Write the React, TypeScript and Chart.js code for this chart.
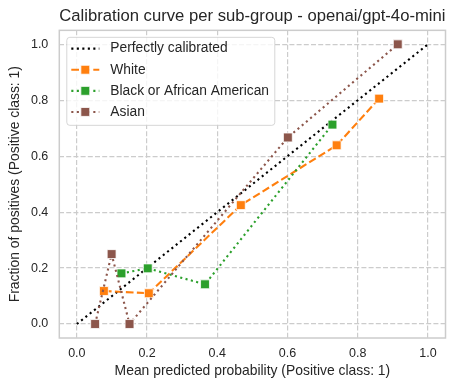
import React, { useEffect, useRef } from "react";
import { Chart, registerables } from "chart.js";

Chart.register(...registerables);

const TITLE = "Calibration curve per sub-group - openai/gpt-4o-mini";
const X_LABEL = "Mean predicted probability (Positive class: 1)";
const Y_LABEL = "Fraction of positives (Positive class: 1)";
const TICKS = [0, 0.2, 0.4, 0.6, 0.8, 1.0];

const SERIES_NAMES = ["Perfectly calibrated", "White", "Black or African American", "Asian"];
const COLORS = ["#000000", "#ff7f0e", "#2ca02c", "#8c564b"];

const PERFECT_X = [0, 1];
const PERFECT_Y = [0, 1];
const WHITE_X = [0.077, 0.205, 0.467, 0.74, 0.861];
const WHITE_Y = [0.118, 0.11, 0.425, 0.639, 0.806];
const BLACK_X = [0.127, 0.202, 0.365, 0.728];
const BLACK_Y = [0.181, 0.199, 0.142, 0.713];
const ASIAN_X = [0.052, 0.099, 0.15, 0.601, 0.914];
const ASIAN_Y = [0.0, 0.25, 0.0, 0.667, 1.0];

const FONT = "'Liberation Sans', Arial, sans-serif";
const TEXT_COLOR = "#262626";
const GRID_COLOR = "#cccccc";
const DOT = [2.1, 3.4];
const DASH = [7.7, 3.3];
const LINE_W = 2.1;
const MARKER_R = 6.3;

const toPts = (xs: number[], ys: number[]) => xs.map((x, i) => ({ x, y: ys[i] }));

const framePlugin = {
  id: "frame",
  beforeDatasetsDraw(chart: any) {
    const { ctx, chartArea: a } = chart;
    ctx.save();
    ctx.strokeStyle = GRID_COLOR;
    ctx.lineWidth = 1.5;
    ctx.strokeRect(a.left, a.top, a.right - a.left, a.bottom - a.top);
    ctx.restore();
  },
};

const legendPlugin = {
  id: "innerLegend",
  afterDraw(chart: any) {
    const { ctx, chartArea: a } = chart;
    const bx = a.left + 7.5;
    const by = a.top + 7;
    const bw = 208;
    const bh = 88;
    ctx.save();
    ctx.beginPath();
    const r = 3;
    ctx.moveTo(bx + r, by);
    ctx.arcTo(bx + bw, by, bx + bw, by + bh, r);
    ctx.arcTo(bx + bw, by + bh, bx, by + bh, r);
    ctx.arcTo(bx, by + bh, bx, by, r);
    ctx.arcTo(bx, by, bx + bw, by, r);
    ctx.closePath();
    ctx.fillStyle = "rgba(255,255,255,0.8)";
    ctx.fill();
    ctx.strokeStyle = "rgba(204,204,204,0.8)";
    ctx.lineWidth = 1;
    ctx.stroke();

    const datasets = chart.data.datasets;
    const order = [0, 1, 2, 3];
    order.forEach((di, row) => {
      const ds = datasets[di];
      const cy = by + 11.3 + row * 21.1;
      const x0 = bx + 4.5;
      const x1 = x0 + 28;
      ctx.beginPath();
      ctx.setLineDash(ds.borderDash || []);
      ctx.lineDashOffset = 0;
      ctx.lineCap = "butt";
      ctx.strokeStyle = ds.borderColor;
      ctx.lineWidth = LINE_W;
      ctx.moveTo(x0, cy);
      ctx.lineTo(x1, cy);
      ctx.stroke();
      ctx.setLineDash([]);
      if (ds.pointRadius > 0) {
        const s = MARKER_R * Math.SQRT1_2;
        const mx = (x0 + x1) / 2;
        ctx.fillStyle = ds.pointBackgroundColor;
        ctx.strokeStyle = "rgba(255,255,255,0.8)";
        ctx.lineWidth = 1;
        ctx.beginPath();
        ctx.rect(mx - s, cy - s, 2 * s, 2 * s);
        ctx.fill();
        ctx.stroke();
      }
      ctx.fillStyle = TEXT_COLOR;
      ctx.font = `13.8px ${FONT}`;
      ctx.textAlign = "left";
      ctx.textBaseline = "middle";
      ctx.fillText(SERIES_NAMES[di], x1 + 11, cy);
    });
    ctx.restore();
  },
};

export default function App() {
  const ref = useRef<HTMLCanvasElement | null>(null);

  useEffect(() => {
    if (!ref.current) return;
    const mk = (i: number, data: any[], dash: number[], markers: boolean, order: number) => ({
      label: SERIES_NAMES[i],
      data,
      borderColor: COLORS[i],
      backgroundColor: COLORS[i],
      borderWidth: LINE_W,
      borderDash: dash,
      borderCapStyle: "butt",
      pointStyle: "rect",
      pointRadius: markers ? MARKER_R : 0,
      pointHoverRadius: markers ? MARKER_R : 0,
      pointBackgroundColor: COLORS[i],
      pointBorderColor: "rgba(255,255,255,0.8)",
      pointBorderWidth: 1,
      tension: 0,
      fill: false,
      order,
    });

    const chart = new Chart(ref.current, {
      type: "line",
      data: {
        datasets: [
          mk(0, toPts(PERFECT_X, PERFECT_Y), DOT, false, 4),
          mk(1, toPts(WHITE_X, WHITE_Y), DASH, true, 3),
          mk(2, toPts(BLACK_X, BLACK_Y), DOT, true, 2),
          mk(3, toPts(ASIAN_X, ASIAN_Y), DOT, true, 1),
        ] as any,
      },
      options: {
        animation: false,
        responsive: false,
        devicePixelRatio: 1,
        layout: { padding: { left: 0, right: 10.5, top: 0, bottom: 0 } },
        plugins: {
          legend: { display: false },
          tooltip: { enabled: false },
          title: {
            display: true,
            text: TITLE,
            fullSize: false,
            color: TEXT_COLOR,
            font: { family: FONT, size: 16.7, weight: "normal", lineHeight: 1.2 },
            padding: { top: 6, bottom: 4.3 },
          },
        },
        scales: {
          x: {
            type: "linear",
            min: -0.05,
            max: 1.05,
            afterFit: (s: any) => {
              s.height = 53;
            },
            afterBuildTicks: (s: any) => {
              s.ticks = TICKS.map((v) => ({ value: v }));
            },
            ticks: {
              color: TEXT_COLOR,
              font: { family: FONT, size: 12.5 },
              padding: 8,
              maxRotation: 0,
              callback: (v: any) => Number(v).toFixed(1),
            },
            grid: { color: GRID_COLOR, lineWidth: 1.2, drawTicks: false },
            border: { display: false, dash: [5, 2.2] },
            title: {
              display: true,
              text: X_LABEL,
              color: TEXT_COLOR,
              font: { family: FONT, size: 13.9, lineHeight: 1.2 },
              padding: { top: 0, bottom: 11 },
            },
          },
          y: {
            type: "linear",
            min: -0.05,
            max: 1.05,
            afterFit: (s: any) => {
              s.width = 59.3;
            },
            afterBuildTicks: (s: any) => {
              s.ticks = TICKS.map((v) => ({ value: v }));
            },
            ticks: {
              color: TEXT_COLOR,
              font: { family: FONT, size: 12.5 },
              padding: 11,
              callback: (v: any) => Number(v).toFixed(1),
            },
            grid: { color: GRID_COLOR, lineWidth: 1.2, drawTicks: false },
            border: { display: false, dash: [5, 2.2] },
            title: {
              display: true,
              text: Y_LABEL,
              color: TEXT_COLOR,
              font: { family: FONT, size: 13.9, lineHeight: 1.2 },
              padding: { top: 7, bottom: 0 },
            },
          },
        },
      } as any,
      plugins: [framePlugin, legendPlugin],
    });
    return () => chart.destroy();
  }, []);

  return (
    <div style={{ position: "fixed", left: 0, top: 0, width: 456, height: 391, background: "#fff" }}>
      <canvas ref={ref} width={456} height={391} style={{ display: "block", width: 456, height: 391 }} />
    </div>
  );
}
